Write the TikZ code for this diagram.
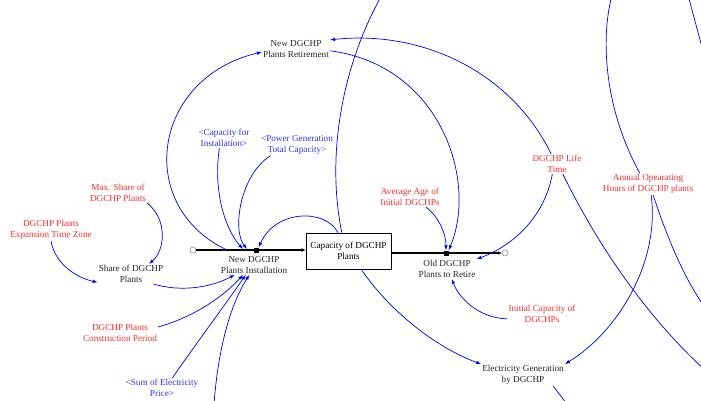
\documentclass[tikz,border=0pt]{standalone}
\usepackage{fontspec}
\setmainfont{Liberation Serif}
\usetikzlibrary{arrows.meta}

\definecolor{auxred}{RGB}{255,45,45}
\definecolor{auxblue}{RGB}{50,50,255}
\definecolor{linkblue}{RGB}{0,0,245}

\tikzset{
  lbl/.style={align=center, inner sep=1pt, font=\fontsize{9.2}{11}\selectfont},
  varblack/.style={lbl, text=black!85},
  varred/.style={lbl, text=auxred},
  varblue/.style={lbl, text=auxblue},
  link/.style={draw=linkblue, line width=0.7pt, -{Latex[length=5pt,width=3.6pt]}},
  plainlink/.style={draw=linkblue, line width=0.7pt},
  pipe/.style={draw=black, line width=2pt, -{Latex[length=4pt,width=4pt]}},
  valvebox/.style={fill=black, minimum size=5pt, inner sep=0pt},
  cloudend/.style={circle, draw=gray, fill=white, minimum size=6pt, inner sep=0pt, line width=0.5pt},
  stockbox/.style={draw, line width=0.8pt, minimum width=85pt, minimum height=36pt,
                   align=center, inner sep=1pt, font=\fontsize{9.2}{11}\selectfont}
}

\begin{document}
\begin{tikzpicture}[x=1pt, y=-1pt]
\useasboundingbox (0,0) rectangle (701,400);
\clip (0,0) rectangle (701,400);
\fill[white] (0,0) rectangle (701,400);

% stock and flows
\node[stockbox] (stock) at (348.5,251) {Capacity of DGCHP\\Plants};
\node[cloudend] (c1) at (193,250) {};
\node[cloudend] (c2) at (505,253) {};
\draw[pipe] (c1) -- (c1 -| stock.west);
\draw[pipe] (stock.east |- c2) -- (c2);
\node[valvebox] (vin) at (256,250) {};
\node[valvebox] (vout) at (446,253) {};

% variables
\node[varblack] (ret) at (296,49) {New DGCHP\\Plants Retirement};
\node[varblack] (inst) at (254,265) {New DGCHP\\Plants Installation};
\node[varblack] (old) at (447,269) {Old DGCHP\\Plants to Retire};
\node[varblack] (share) at (131,274) {Share of DGCHP\\Plants};
\node[varblack] (elec) at (523,375) {Electricity Generation\\by DGCHP};

\node[varred] (maxshare) at (118,193) {Max. Share of\\DGCHP Plants};
\node[varred] (exptz) at (51,230) {DGCHP Plants\\Expansion Time Zone};
\node[varred] (constr) at (120,333) {DGCHP Plants\\Construction Period};
\node[varred] (avgage) at (410,197) {Average Age of\\Initial DGCHPs};
\node[varred] (life) at (557,164) {DGCHP Life\\Time};
\node[varred] (annual) at (648,184) {Annual Opearating\\Hours of DGCHP plants};
\node[varred] (initcap) at (542,314) {Initial Capacity of\\DGCHPs};

\node[varblue] (capinst) at (224,138) {\textless Capacity for\\Installation\textgreater};
\node[varblue] (pgtc) at (297,145) {\textless Power Generation\\Total Capacity\textgreater};
\node[varblue] (sumprice) at (162,388) {\textless Sum of Electricity\\Price\textgreater};

% points on the pipes and loose ends
\coordinate (instTail) at (225,249);
\coordinate (pinA) at (243,249);
\coordinate (pinB) at (247,249);
\coordinate (topA) at (382,-5);
\coordinate (topB) at (612,-5);
\coordinate (topC) at (688,-5);
\coordinate (rightA) at (706,62);
\coordinate (rightB) at (706,309);
\coordinate (rightC) at (706,371);
\coordinate (bottomA) at (214,404);
\coordinate (bottomB) at (567,404);

% causal links
\draw[link] (instTail) .. controls (135,205) and (152,78) .. (ret.185);
\draw[link] (life.120) .. controls (510,70) and (420,30) .. (ret.15);
\draw[link] (ret.-3) .. controls (440,65) and (478,180) .. (vout.north east);
\draw[plainlink] (stock.110) .. controls (325,150) and (345,60) .. (topA);
\draw[link] (stock.120) .. controls (325,208) and (275,210) .. (vin.north east);
\draw[link] (capinst.245) .. controls (212,200) and (230,235) .. (pinA);
\draw[link] (pgtc.202) .. controls (240,175) and (232,230) .. (pinB);
\draw[link] (maxshare.south east) .. controls (168,220) and (165,250) .. (share.29);
\draw[link] (exptz.south) .. controls (55,265) and (78,278) .. (share.194);
\draw[link] (share.-24) .. controls (180,292) and (210,288) .. (inst.207);
\draw[link] (constr.9) .. controls (190,318) and (220,300) .. (inst.222);
\draw[link] (sumprice.44) .. controls (195,345) and (225,305) .. (inst.230);
\draw[link] (bottomA) .. controls (218,350) and (230,305) .. (inst.245);
\draw[link] (stock.-55) .. controls (385,305) and (430,345) .. (elec.north west);
\draw[link] (avgage.-32) .. controls (440,218) and (446,235) .. (vout.north);
\draw[link] (life.245) .. controls (545,215) and (515,245) .. (old.north east);
\draw[plainlink] (life.-60) .. controls (600,250) and (650,320) .. (rightC);
\draw[plainlink] (annual.127) .. controls (605,110) and (600,40) .. (topB);
\draw[plainlink] (topC) -- (rightA);
\draw[link] (annual.-74) .. controls (660,260) and (620,330) .. (elec.north east);
\draw[plainlink] (annual.-65) .. controls (668,240) and (685,280) .. (rightB);
\draw[plainlink] (elec.-20) -- (bottomB);
\draw[link] (initcap.188) .. controls (480,318) and (460,300) .. (old.-65);
\end{tikzpicture}
\end{document}
